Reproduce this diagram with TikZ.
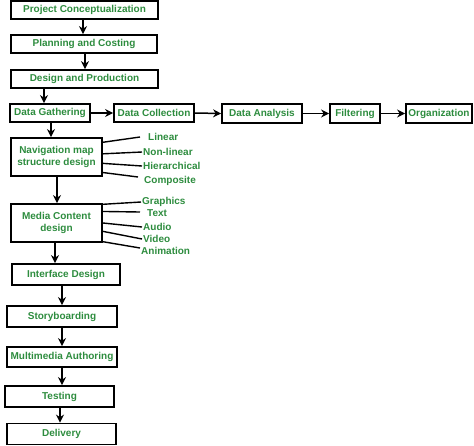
\documentclass[tikz,border=0pt]{standalone}
\usepackage{fontspec}
\setmainfont{Liberation Sans}
\usetikzlibrary{arrows.meta,calc}
\definecolor{gtext}{RGB}{45,140,62}
\begin{document}
\begin{tikzpicture}[x=1pt,y=-1pt,
  box/.style={draw=black,line width=1.8pt,inner sep=0pt,align=center,
    text=gtext,font=\fontsize{10}{12}\selectfont\bfseries},
  lbl/.style={anchor=west,inner sep=1pt,text=gtext,font=\fontsize{10}{12}\selectfont\bfseries},
  arr/.style={line width=1.5pt,-{Stealth[length=8pt,width=8pt]}},
  br/.style={line width=1.4pt}]
\useasboundingbox (0,0) rectangle (474,445);
% boxes
\node[box,minimum width=147pt,minimum height=18pt] (p1) at (84.5,10) {Project Conceptualization};
\node[box,minimum width=146pt,minimum height=18pt] (p2) at (84,44) {Planning and Costing};
\node[box,minimum width=147pt,minimum height=18pt] (p3) at (84.5,79) {Design and Production};
\node[box,minimum width=80pt,minimum height=18pt] (dg) at (50,113) {Data Gathering};
\node[box,minimum width=80pt,minimum height=18pt] (dc) at (154,113) {Data Collection};
\node[box,minimum width=80pt,minimum height=19pt] (da) at (262,113.5) {Data Analysis};
\node[box,minimum width=50pt,minimum height=19pt] (fi) at (355,113.5) {Filtering};
\node[box,minimum width=66pt,minimum height=19pt] (or) at (439,113.5) {Organization};
\node[box,minimum width=91pt,minimum height=38pt] (nav) at (56.5,157) {Navigation map\\structure design};
\node[box,minimum width=91pt,minimum height=38pt] (med) at (56.5,223) {Media Content\\design};
\node[box,minimum width=108pt,minimum height=21pt] (int) at (66,274.5) {Interface Design};
\node[box,minimum width=110pt,minimum height=21pt] (sto) at (62,316.5) {Storyboarding};
\node[box,minimum width=110pt,minimum height=20pt] (mul) at (62,357) {Multimedia Authoring};
\node[box,minimum width=109pt,minimum height=21pt] (tes) at (59.5,396.5) {Testing};
\node[box,minimum width=109pt,minimum height=21pt] (del) at (61.5,434) {Delivery};
% labels
\node[lbl] (lin) at (147,137) {Linear};
\node[lbl] (nonl) at (142,152) {Non-linear};
\node[lbl] (hie) at (142,166) {Hierarchical};
\node[lbl] (com) at (143,181) {Composite};
\node[lbl] (gra) at (141,202) {Graphics};
\node[lbl] (txt) at (146,213) {Text};
\node[lbl] (aud) at (142,227) {Audio};
\node[lbl] (vid) at (142,239) {Video};
\node[lbl] (ani) at (140,251) {Animation};
% vertical arrows
\draw[arr] (p1.south -| 83,0) -- (p2.north -| 83,0);
\draw[arr] (p2.south -| 85,0) -- (p3.north -| 85,0);
\draw[arr] (p3.south -| 44,0) -- (dg.north -| 44,0);
\draw[arr] (dg.south -| 51,0) -- (nav.north -| 51,0);
\draw[arr] (nav.south -| 57,0) -- (med.north -| 57,0);
\draw[arr] (med.south -| 55,0) -- (int.north -| 55,0);
\draw[arr] (int.south -| 62,0) -- (sto.north -| 62,0);
\draw[arr] (sto.south -| 62,0) -- (mul.north -| 62,0);
\draw[arr] (mul.south -| 62,0) -- (tes.north -| 62,0);
\draw[arr] (tes.south -| 60,0) -- (del.north -| 60,0);
% horizontal arrows
\draw[arr] (dg.east) -- (dc.west);
\draw[arr] (dc.east) -- (da.west);
\draw[arr] (da.east) -- (fi.west);
\draw[arr] (fi.east) -- (or.west);
% branches
\draw[br] ($(nav.north east)!0.13!(nav.south east)$) -- (lin.west -| 140,0);
\draw[br] ($(nav.north east)!0.42!(nav.south east)$) -- (nonl.west);
\draw[br] ($(nav.north east)!0.66!(nav.south east)$) -- (hie.west);
\draw[br] ($(nav.north east)!0.89!(nav.south east)$) -- (138,177);
\draw[br] ($(med.north east)!0.03!(med.south east)$) -- (gra.west);
\draw[br] ($(med.north east)!0.21!(med.south east)$) -- (140,212);
\draw[br] ($(med.north east)!0.5!(med.south east)$) -- (aud.west);
\draw[br] ($(med.north east)!0.71!(med.south east)$) -- (vid.west);
\draw[br] ($(med.north east)!0.97!(med.south east)$) -- (140,248);
\end{tikzpicture}
\end{document}
